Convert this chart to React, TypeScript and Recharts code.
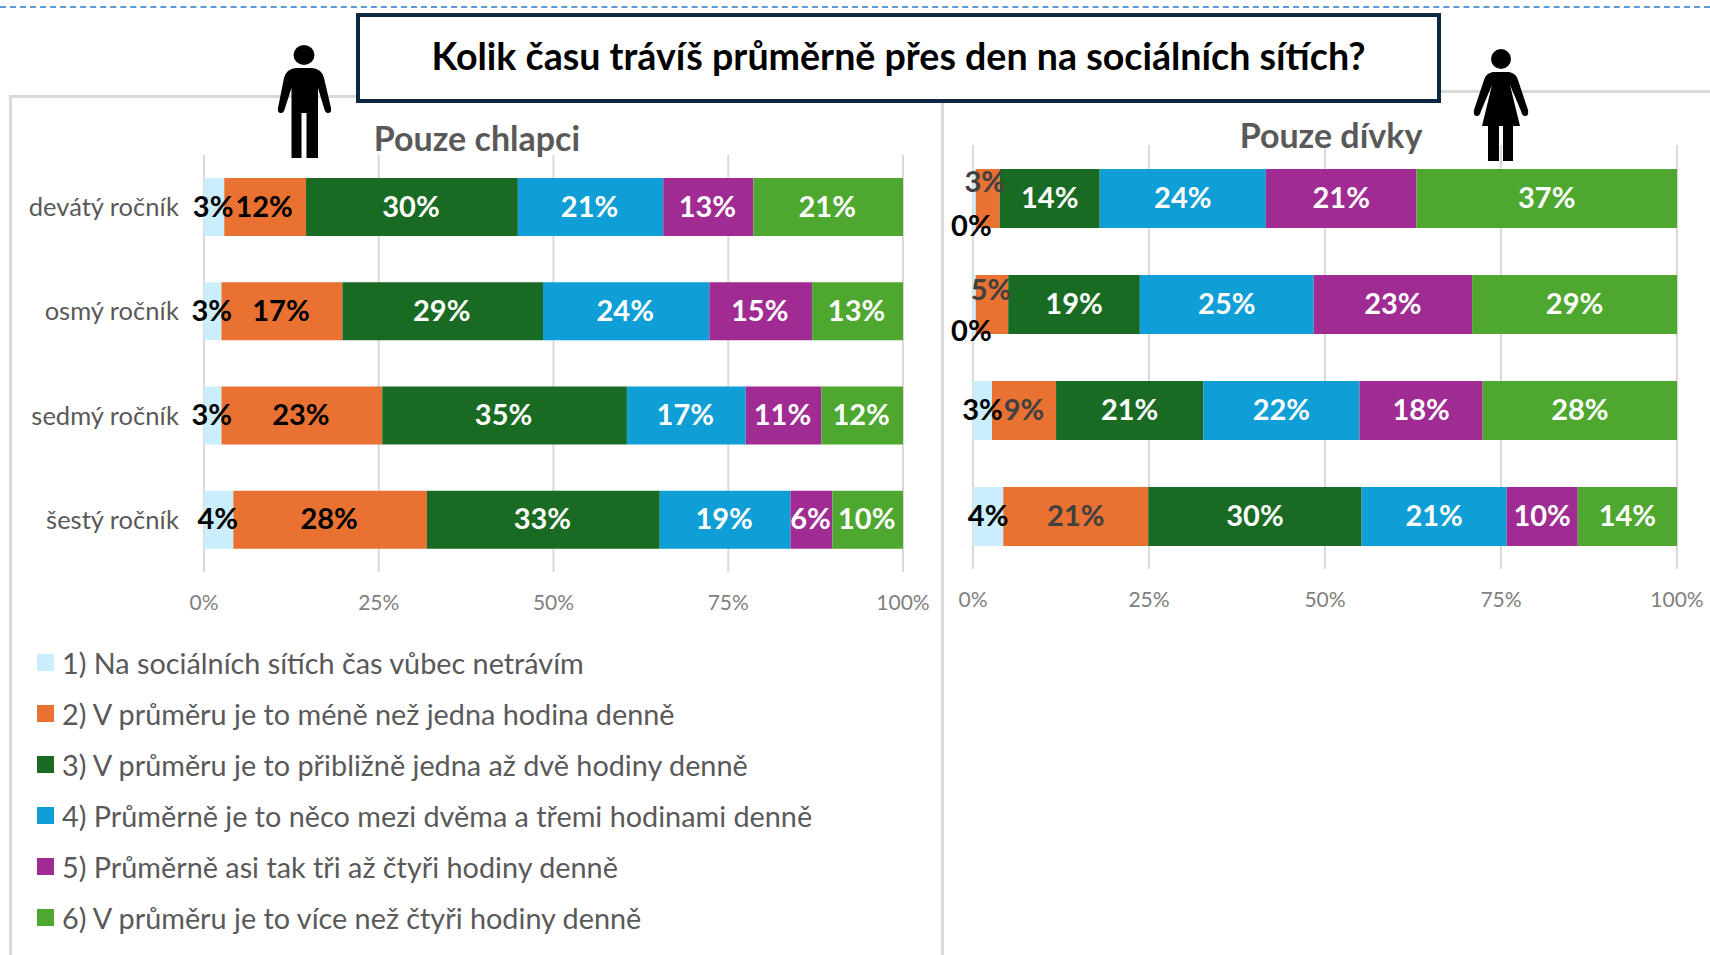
import { Bar, BarChart, CartesianGrid, LabelList, Legend, XAxis, YAxis } from 'recharts'

const FONT = 'Lato, sans-serif'

const grades = ['devátý ročník', 'osmý ročník', 'sedmý ročník', 'šestý ročník']
const answers = [
	'1) Na sociálních sítích čas vůbec netrávím',
	'2) V průměru je to méně než jedna hodina denně',
	'3) V průměru je to přibližně jedna až dvě hodiny denně',
	'4) Průměrně je to něco mezi dvěma a třemi hodinami denně',
	'5) Průměrně asi tak tři až čtyři hodiny denně',
	'6) V průměru je to více než čtyři hodiny denně',
]
const colors = ['#caeefb', '#e97132', '#196b24', '#0f9ed5', '#a02b93', '#4ea72e']
const axisTicks = [0, 25, 50, 75, 100]

const boys1 = [2.9, 2.5, 2.5, 4.2]
const boys2 = [11.7, 17.3, 23.0, 27.7]
const boys3 = [30.3, 28.7, 35.0, 33.3]
const boys4 = [20.8, 23.8, 17.0, 18.7]
const boys5 = [12.9, 14.7, 10.8, 6.0]
const boys6 = [21.4, 13.0, 11.7, 10.1]

const girls1 = [0.4, 0.4, 2.7, 4.3]
const girls2 = [3.4, 4.6, 9.1, 20.6]
const girls3 = [14.2, 18.7, 20.9, 30.3]
const girls4 = [23.6, 24.7, 22.2, 20.6]
const girls5 = [21.4, 22.5, 17.5, 10.1]
const girls6 = [37.0, 29.1, 27.6, 14.1]

const toRows = (series: number[][]) =>
	grades.map((grade, row) => {
		const item: Record<string, string | number> = { grade }
		series.forEach((values, s) => {
			item[`s${s}`] = values[row]
		})
		return item
	})

const boysRows = toRows([boys1, boys2, boys3, boys4, boys5, boys6])
const girlsRows = toRows([girls1, girls2, girls3, girls4, girls5, girls6])

// labels that Excel moved off their segment in the girls chart: "series-row": [dx, dy]
const girlsShift: Record<string, [number, number]> = {
	'0-0': [-3, 28],
	'1-0': [-3, -16],
	'0-1': [-3, 27],
	'1-1': [-1, -14],
}

const makeLabel =
	(series: number, labelFill: string[], shift: Record<string, [number, number]>, nudge: number) =>
	(props: any) => {
		const { x, y, width, height, value, index } = props
		const [dx, dy] = shift[`${series}-${index}`] || [0, 0]
		return (
			<text
				x={x + width / 2 + dx + nudge}
				y={y + height / 2 + dy - 2}
				textAnchor='middle'
				dominantBaseline='central'
				fill={labelFill[series]}
				fontFamily={FONT}
				fontSize={29}
				fontWeight={700}
			>
				{Math.round(value)}%
			</text>
		)
	}

const boysLabelFill = ['#000000', '#000000', '#ffffff', '#ffffff', '#ffffff', '#ffffff']
const girlsLabelFill = ['#000000', '#404040', '#ffffff', '#ffffff', '#ffffff', '#ffffff']

const AnswerLegend = (props: any) => (
	<div style={{ height: 323, paddingLeft: 37, paddingTop: 5, boxSizing: 'border-box' }}>
		{props.payload.map((entry: any) => (
			<div key={entry.value} style={{ display: 'flex', alignItems: 'center', height: 51 }}>
				<span style={{ width: 17, height: 17, background: entry.color, marginRight: 8 }} />
				<span style={{ fontFamily: FONT, fontSize: 28.8, color: '#595959', whiteSpace: 'nowrap' }}>
					{entry.value}
				</span>
			</div>
		))}
	</div>
)

const Man = () => (
	<svg style={{ position: 'absolute', left: 270, top: 40, zIndex: 3 }} width={70} height={122} viewBox='270 40 70 122'>
		<ellipse cx={304} cy={55} rx={10.5} ry={10} fill='#000' />
		<path
			fill='#000'
			d='M296 68 H312 Q322 69 324 78 L331 108 Q332 113 328 113 Q325 113 324 108 L318 88 V158 H306.5 V113 H301.5 V158 H291.5 V88 L285 108 Q284 113 281 113 Q277 113 278 108 L284 78 Q286 69 296 68 Z'
		/>
	</svg>
)

const Woman = () => (
	<svg style={{ position: 'absolute', left: 1468, top: 44, zIndex: 3 }} width={66} height={122} viewBox='1468 44 66 122'>
		<ellipse cx={1501} cy={59} rx={10} ry={10} fill='#000' />
		<path
			fill='#000'
			d='M1493 72 H1509 Q1516 73 1518 80 L1528 110 Q1529 116 1525 116 Q1522 116 1521 111 L1510 85 L1520 126 H1513 V161 H1503 V126 H1499 V161 H1488 V126 H1482 L1492 85 L1481 111 Q1480 116 1477 116 Q1473 116 1474 110 L1484 80 Q1486 73 1493 72 Z'
		/>
	</svg>
)

const line = (left: number, top: number, width: number, height: number) => (
	<div style={{ position: 'absolute', left, top, width, height, background: '#d9d9d9' }} />
)

const chartTitle = (text: string, cx: number, cy: number) => (
	<div
		style={{
			position: 'absolute',
			left: cx - 200,
			top: cy - 25,
			width: 400,
			height: 50,
			lineHeight: '50px',
			textAlign: 'center',
			fontFamily: FONT,
			fontSize: 34,
			fontWeight: 700,
			color: '#595959',
			zIndex: 2,
		}}
	>
		{text}
	</div>
)

const App = () => {
	return (
		<div style={{ position: 'absolute', left: 0, top: 0, width: 1710, height: 955, overflow: 'hidden', background: '#fff' }}>
			<div style={{ position: 'absolute', left: 0, top: 6, width: 1710, borderTop: '2px dashed #5b9bd5' }} />
			{line(9, 95, 2.5, 860)}
			{line(9, 95, 350, 2.5)}
			{line(1440, 90, 270, 2.5)}
			{line(941, 100, 2.5, 855)}

			<div style={{ position: 'absolute', left: 0, top: 0, zIndex: 1 }}>
				<BarChart
					width={940}
					height={955}
					data={boysRows}
					layout='vertical'
					margin={{ top: 155, right: 37, bottom: 0, left: 0 }}
				>
					<CartesianGrid horizontal={false} stroke='#d9d9d9' strokeWidth={2} />
					<XAxis
						type='number'
						domain={[0, 100]}
						ticks={axisTicks}
						tickFormatter={(v) => `${v}%`}
						axisLine={false}
						tickLine={false}
						tickSize={0}
						tickMargin={23}
						height={60}
						interval={0}
						tick={{ fontFamily: FONT, fontSize: 21, fill: '#7f7f7f' }}
					/>
					<YAxis
						type='category'
						dataKey='grade'
						width={204}
						axisLine={false}
						tickLine={false}
						tickSize={0}
						tickMargin={25}
						tick={{ fontFamily: FONT, fontSize: 25.5, fill: '#595959' }}
					/>
					<Legend
						layout='horizontal'
						verticalAlign='bottom'
						align='left'
						height={323}
						content={AnswerLegend}
					/>
					{answers.map((name, s) => (
						<Bar key={name} dataKey={`s${s}`} name={name} stackId='a' fill={colors[s]} barSize={58} isAnimationActive={false}>
							<LabelList dataKey={`s${s}`} content={makeLabel(s, boysLabelFill, {}, -1)} />
						</Bar>
					))}
				</BarChart>
			</div>

			<div style={{ position: 'absolute', left: 945, top: 0, zIndex: 1 }}>
				<BarChart
					width={765}
					height={955}
					data={girlsRows}
					layout='vertical'
					margin={{ top: 145, right: 33, bottom: 326, left: 28 }}
				>
					<CartesianGrid horizontal={false} stroke='#d9d9d9' strokeWidth={2} />
					<XAxis
						type='number'
						domain={[0, 100]}
						ticks={axisTicks}
						tickFormatter={(v) => `${v}%`}
						axisLine={false}
						tickLine={false}
						tickSize={0}
						tickMargin={23}
						height={60}
						interval={0}
						tick={{ fontFamily: FONT, fontSize: 21, fill: '#7f7f7f' }}
					/>
					<YAxis type='category' dataKey='grade' width={0} hide />
					{answers.map((name, s) => (
						<Bar key={name} dataKey={`s${s}`} name={name} stackId='a' fill={colors[s]} barSize={59} isAnimationActive={false}>
							<LabelList dataKey={`s${s}`} content={makeLabel(s, girlsLabelFill, girlsShift, 0)} />
						</Bar>
					))}
				</BarChart>
			</div>

			{chartTitle('Pouze chlapci', 477, 138)}
			{chartTitle('Pouze dívky', 1331, 135)}

			<div
				style={{
					position: 'absolute',
					left: 356,
					top: 13,
					width: 1085,
					height: 90,
					boxSizing: 'border-box',
					border: '4px solid #0e2841',
					background: '#fff',
					zIndex: 2,
					textAlign: 'center',
					lineHeight: '78px',
					fontFamily: FONT,
					fontSize: 37.6,
					fontWeight: 700,
					color: '#000',
				}}
			>
				Kolik času trávíš průměrně přes den na sociálních sítích?
			</div>

			<Man />
			<Woman />
		</div>
	)
}

export default App
